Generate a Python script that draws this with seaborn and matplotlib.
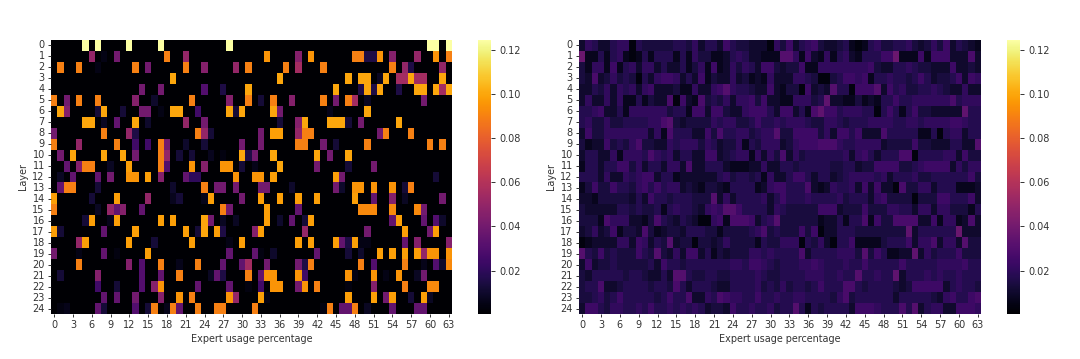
import numpy as np
import seaborn as sns
import matplotlib
matplotlib.use("Agg")
import matplotlib.pyplot as plt

N_EXPERTS = 64
LAYERS = list(range(25))
EXPERTS = list(range(N_EXPERTS))
BACKGROUND = 0.0
XLABEL = "Expert usage percentage"
YLABEL = "Layer"
CBAR_TICKS = [0.02, 0.04, 0.06, 0.08, 0.10, 0.12]

# left panel: only a few experts are used per layer, usage in thousandths {expert: usage}
left_usage = [
    {5: 125, 7: 125, 12: 125, 17: 125, 28: 125, 60: 125, 61: 125, 63: 125},
    {6: 50, 8: 5, 10: 40, 18: 90, 21: 50, 34: 95, 39: 45, 41: 95, 48: 90, 49: 90, 50: 15, 51: 15, 52: 95, 54: 45, 58: 50, 61: 95, 63: 90},
    {1: 90, 4: 90, 7: 5, 13: 90, 15: 40, 21: 90, 24: 45, 29: 50, 31: 90, 37: 90, 39: 55, 43: 90, 54: 90, 56: 50, 57: 15, 62: 50},
    {19: 100, 36: 100, 47: 100, 49: 100, 50: 100, 52: 8, 53: 100, 55: 55, 56: 55, 57: 100, 58: 55, 59: 55, 62: 100},
    {14: 40, 17: 40, 24: 30, 27: 15, 31: 100, 45: 100, 49: 15, 50: 100, 51: 15, 52: 100, 55: 15, 58: 100, 59: 100, 61: 100, 62: 55, 63: 100},
    {0: 90, 2: 40, 4: 90, 7: 90, 13: 45, 16: 10, 22: 90, 28: 45, 31: 90, 33: 12, 35: 90, 38: 45, 43: 90, 45: 40, 47: 90, 48: 55, 50: 8, 59: 40},
    {1: 100, 2: 45, 7: 12, 8: 100, 11: 12, 14: 40, 15: 40, 17: 5, 19: 100, 20: 100, 23: 25, 28: 100, 29: 12, 30: 100, 35: 100, 36: 40, 44: 6, 50: 100},
    {5: 100, 6: 100, 8: 8, 10: 35, 13: 100, 15: 10, 21: 50, 24: 40, 36: 12, 39: 45, 40: 100, 44: 100, 45: 100, 46: 100, 47: 12, 49: 40, 55: 100},
    {0: 40, 8: 90, 12: 50, 13: 15, 23: 90, 24: 50, 25: 12, 33: 40, 35: 98, 36: 98, 39: 50, 40: 90, 41: 90, 52: 40, 53: 90, 57: 90},
    {0: 90, 4: 50, 10: 90, 13: 25, 15: 25, 17: 90, 18: 40, 21: 10, 24: 12, 30: 40, 33: 40, 39: 90, 40: 90, 43: 40, 45: 12, 50: 90, 60: 90, 62: 90},
    {1: 40, 3: 100, 8: 100, 11: 100, 13: 40, 17: 90, 18: 50, 20: 12, 22: 12, 25: 7, 27: 4, 30: 100, 31: 15, 32: 40, 35: 100, 42: 100, 44: 40, 47: 100},
    {2: 35, 4: 45, 5: 90, 6: 90, 9: 8, 12: 98, 17: 90, 18: 30, 22: 95, 24: 45, 27: 95, 28: 95, 30: 12, 32: 6, 36: 100, 42: 40, 47: 12, 51: 40},
    {1: 8, 3: 35, 7: 35, 9: 40, 12: 95, 13: 95, 15: 98, 17: 45, 21: 35, 22: 20, 23: 20, 29: 95, 32: 95, 33: 95, 35: 98, 45: 98, 46: 40, 61: 12},
    {1: 35, 2: 90, 3: 90, 7: 12, 19: 10, 24: 90, 26: 40, 27: 40, 29: 40, 33: 40, 34: 40, 38: 10, 45: 40, 46: 10, 48: 95, 49: 95, 51: 95, 54: 95, 56: 12, 57: 90},
    {0: 98, 6: 12, 10: 98, 15: 50, 19: 7, 20: 12, 24: 6, 25: 98, 30: 40, 33: 98, 36: 98, 39: 98, 42: 98, 48: 98, 51: 35, 54: 45, 56: 8, 62: 40},
    {0: 90, 7: 8, 9: 50, 10: 35, 11: 45, 14: 35, 27: 90, 28: 40, 34: 98, 39: 35, 49: 92, 50: 92, 51: 92, 54: 92, 58: 92, 59: 40},
    {5: 12, 6: 98, 9: 6, 10: 98, 17: 98, 19: 98, 24: 100, 25: 40, 27: 8, 29: 8, 34: 98, 36: 10, 38: 35, 40: 12, 41: 98, 54: 35, 55: 98, 59: 35, 61: 30, 62: 10},
    {0: 98, 1: 12, 8: 35, 13: 98, 21: 98, 23: 12, 24: 100, 26: 98, 27: 15, 32: 45, 33: 98, 40: 50, 50: 40, 56: 98, 60: 40, 61: 98},
    {4: 50, 5: 98, 12: 98, 16: 12, 22: 98, 28: 5, 30: 98, 39: 98, 41: 98, 45: 98, 46: 35, 47: 15, 48: 98, 49: 5, 50: 5, 56: 35, 58: 45, 63: 45},
    {0: 40, 4: 5, 8: 35, 10: 4, 15: 98, 28: 35, 32: 35, 33: 4, 35: 10, 42: 35, 47: 12, 49: 10, 52: 98, 54: 98, 56: 98, 58: 98, 59: 50, 60: 95, 61: 95, 63: 95},
    {4: 90, 12: 45, 14: 30, 17: 90, 20: 6, 23: 90, 27: 35, 30: 35, 31: 55, 34: 40, 39: 40, 40: 15, 41: 90, 49: 90, 51: 30, 56: 90, 59: 6, 61: 30, 62: 10, 63: 92},
    {1: 12, 7: 45, 14: 30, 17: 35, 20: 90, 25: 8, 26: 35, 27: 15, 31: 90, 33: 35, 34: 95, 35: 95, 39: 95, 40: 25, 47: 95, 48: 5, 51: 95, 53: 5, 55: 95, 58: 8, 59: 40},
    {7: 25, 10: 12, 14: 30, 16: 45, 17: 95, 23: 35, 28: 35, 31: 4, 33: 25, 35: 95, 36: 95, 39: 40, 40: 95, 42: 90, 47: 4, 51: 45, 56: 90, 60: 92, 61: 92},
    {8: 35, 10: 35, 13: 40, 17: 45, 20: 95, 22: 90, 28: 95, 29: 50, 33: 98, 34: 5, 47: 98, 51: 98, 53: 40, 54: 98, 57: 12, 59: 98, 60: 8},
    {1: 4, 2: 6, 7: 35, 8: 12, 13: 30, 15: 12, 16: 90, 18: 6, 19: 90, 20: 35, 23: 90, 26: 90, 27: 90, 32: 90, 43: 4, 44: 90, 46: 35, 47: 35, 48: 90, 50: 8, 54: 35, 58: 35, 59: 35},
]

# right panel: every expert gets used, one hex digit per cell, usage = digit * RIGHT_STEP
RIGHT_STEP = 0.0034
right_usage = [
    "36533566 15444445 54635537 54433316 47356743 34521256 44556434 64735432",
    "b2252562 12525552 52644223 56533222 99627326 25632555 77b22272 77733383",
    "42662725 63663533 52462723 64653774 34472266 66666674 33556544 33373343",
    "43834645 41536776 35372433 63423263 33665411 45776725 56554575 34457376",
    "33546365 63673334 22633679 65543373 24417343 95517779 37564455 65433633",
    "36336362 25243381 73284546 36674733 2266645a 33224232 55755666 66685666",
    "55673352 66666645 52773774 33677753 773528a7 75666551 57525744 33333a55",
    "56446445 55566894 34444656 64457556 56665446 65455566 66556656 66677655",
    "37446666 66636285 55337485 56645669 44777746 37757333 85555522 51566355",
    "42337454 68443365 66646534 46254666 34677788 86556666 34444744 33355339",
    "35533626 66586563 55337734 56626364 83645555 55636753 55588155 55663744",
    "25535577 46355366 38335553 22233633 55455555 44553447 77744567 77736466",
    "55536336 56773552 33333356 45545263 35775355 34566665 63555644 55555574",
    "24744755 46757566 34324432 55552367 75558323 65563737 33184466 35552223",
    "33244444 35375545 55444936 35555635 75556555 56455536 74444144 47755573",
    "43333355 45445256 55436769 97555536 54444477 73444744 46655366 36644425",
    "44428666 33248543 54311672 88873569 44444423 35255827 44888833 72662383",
    "34634724 43842344 35554424 44456845 44474713 35554444 4444a355 5555b333",
    "12333366 37635493 44144346 44442544 66615463 15572222 45557366 83663944",
    "95474544 47549436 37735243 44466565 55583555 56664947 52233a36 45557444",
    "37344544 44453755 45555555 66577654 55566765 55655755 55575555 56666755",
    "43555554 55433539 95445544 55556544 55556665 56559556 55a35556 56556555",
    "45583345 55545548 53555433 55556454 64554575 55885455 55434777 77356554",
    "44564575 55554575 58336587 66557556 55665555 46845555 55355555 43675578",
    "37754665 56575565 65653443 75565564 55952545 55537776 55585935 66337776",
]


def left_matrix():
    mat = np.full((len(LAYERS), N_EXPERTS), BACKGROUND)
    for i, row in enumerate(left_usage):
        for col, val in row.items():
            mat[i, col] = val / 1000
    return mat


def right_matrix():
    rows = []
    for row in right_usage:
        digits = row.replace(" ", "")
        rows.append([int(c, 16) * RIGHT_STEP for c in digits])
    return np.array(rows)


def draw(fig, mat, ax_px, cbar_px):
    W, H = 1080, 359
    ax = fig.add_axes([ax_px[0] / W, 1 - ax_px[3] / H, (ax_px[2] - ax_px[0]) / W, (ax_px[3] - ax_px[1]) / H])
    cax = fig.add_axes([cbar_px[0] / W, 1 - cbar_px[3] / H, (cbar_px[2] - cbar_px[0]) / W, (cbar_px[3] - cbar_px[1]) / H])
    sns.heatmap(mat, ax=ax, cbar_ax=cax, cmap="inferno", vmin=0.0003, vmax=0.1245,
                xticklabels=EXPERTS, yticklabels=LAYERS)
    ax.set_xticks(np.arange(0, N_EXPERTS, 3) + 0.5)
    ax.set_xticklabels(EXPERTS[::3], rotation=0)
    ax.set_yticks(np.arange(len(LAYERS)) + 0.5)
    ax.set_yticklabels(LAYERS, rotation=0)
    ax.tick_params(labelsize=7, length=2.5, width=0.7, pad=2, colors="#333333")
    ax.set_xlabel(XLABEL, fontsize=6.9, color="#333333", labelpad=2.5)
    ax.set_ylabel(YLABEL, fontsize=6.9, color="#333333", labelpad=3)
    cax.set_yticks(CBAR_TICKS)
    cax.set_yticklabels([f"{t:.2f}" for t in CBAR_TICKS])
    cax.tick_params(labelsize=7, length=3, width=0.7, pad=3, colors="#333333")


fig = plt.figure(figsize=(10.8, 3.59), dpi=100)
draw(fig, left_matrix(), (51, 40, 452, 314), (478, 40, 491, 314))
draw(fig, right_matrix(), (579, 40, 981, 314), (1007, 40, 1020, 314))
fig.savefig("out.png", dpi=100)
